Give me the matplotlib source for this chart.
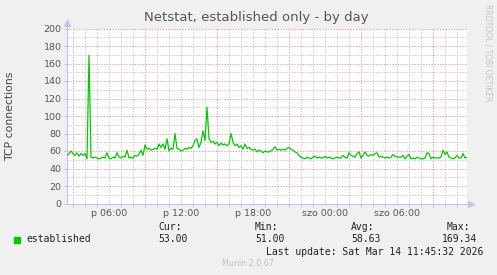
import numpy as np
import matplotlib
matplotlib.use("Agg")
import matplotlib.pyplot as plt

# established connections, 10 minute steps, Fri 02:30 -> Sat 11:50
established = [
    55, 57, 60, 57, 55, 58, 54, 57, 55, 57,
    51, 169.34, 53, 52, 53, 52, 51, 52, 53, 52,
    58, 52, 51, 53, 52, 58, 53, 52, 54, 53,
    61, 52, 53, 52, 55, 54, 56, 61, 55, 67,
    62, 63, 61, 62, 63, 62, 68, 64, 68, 62,
    74, 60, 63, 62, 80, 63, 62, 60, 61, 63,
    62, 64, 63, 66, 72, 74, 64, 70, 83, 72,
    110, 74, 70, 71, 68, 70, 66, 69, 67, 68,
    66, 68, 80, 70, 66, 68, 64, 66, 62, 68,
    63, 64, 62, 61, 62, 59, 61, 60, 58, 60,
    59, 59, 60, 62, 65, 61, 62, 61, 62, 61,
    63, 64, 62, 61, 59, 58, 55, 53, 52, 51,
    53, 52, 51, 53, 54, 52, 53, 52, 52, 54,
    52, 53, 52, 51, 52, 53, 52, 52, 55, 53,
    52, 58, 55, 54, 53, 57, 59, 52, 55, 59,
    55, 54, 56, 55, 57, 58, 53, 54, 53, 52,
    53, 52, 53, 56, 54, 53, 53, 53, 55, 51,
    54, 56, 51, 52, 51, 53, 52, 51, 51, 52,
    58, 57, 51, 53, 52, 52, 52, 53, 61, 56,
    59, 53, 52, 51, 52, 55, 52, 52, 57, 52,
    53,
]
start_hour = 2.5          # hours since Fri 00:00
step_hour = 1.0 / 6.0
hours = start_hour + np.arange(len(established)) * step_hour

tick_hours = [6, 12, 18, 24, 30]
tick_labels = ["p 06:00", "p 12:00", "p 18:00", "szo 00:00", "szo 06:00"]
major_grid_hours = [3, 9, 15, 21, 27, 33]

legend_name = "established"
stat_heads = ["Cur:", "Min:", "Avg:", "Max:"]
stat_values = ["53.00", "51.00", "58.63", "169.34"]
last_update = "Last update: Sat Mar 14 11:45:32 2026"

W, H = 497, 275
BG = "#F0F0F0"
TXT = "#555555"
AXC = "#C4C4EE"

fig = plt.figure(figsize=(W / 100, H / 100), dpi=100, facecolor=BG)
ax = fig.add_axes([67 / W, 1 - 203.5 / H, 400 / W, 175 / H])
ax.set_facecolor("white")

x0, x1 = start_hour, hours[-1]
ax.set_xlim(x0, x1)
ax.set_ylim(0, 200)

# grid: minor grey, major red, both dotted
dots = (0, (1.4, 1.4))
for h in np.arange(3, 36):
    if h in major_grid_hours:
        continue
    ax.axvline(h, color="#CACACA", lw=0.72, ls=dots, zorder=1)
for h in major_grid_hours:
    ax.axvline(h, color="#F0A0A0", lw=0.72, ls=dots, zorder=1)
for v in range(10, 200, 20):
    ax.axhline(v, color="#CACACA", lw=0.72, ls=dots, zorder=1)
for v in range(20, 201, 20):
    ax.axhline(v, color="#F0A0A0", lw=0.72, ls=dots, zorder=1)

ax.plot(hours, established, color="#00CC00", lw=0.9, zorder=3)

for s in ["top", "right"]:
    ax.spines[s].set_visible(False)
for s in ["left", "bottom"]:
    ax.spines[s].set_color(AXC)
    ax.spines[s].set_linewidth(0.8)

ax.set_yticks(range(0, 201, 20))
ax.set_xticks(tick_hours)
ax.set_xticklabels(tick_labels)
ax.set_xticks(np.arange(3, 36), minor=True)
ax.tick_params(axis="both", which="major", labelsize=6.8, colors=TXT,
               length=2, width=0.6, pad=2)
ax.tick_params(axis="x", which="major", length=0, pad=4)
ax.tick_params(axis="x", which="minor", length=2, width=0.6, colors="#BBBBBB")
ax.tick_params(axis="y", which="major", color="#BBBBBB")

# axis arrows
ax.plot([1.0, 1.01], [0, 0], transform=ax.transAxes, color=AXC, lw=0.8, clip_on=False)
ax.plot([1.01], [0], transform=ax.transAxes, marker=">", ms=4, color=AXC,
        mec=AXC, clip_on=False)
ax.plot([0, 0], [1.0, 1.03], transform=ax.transAxes, color=AXC, lw=0.8, clip_on=False)
ax.plot([0], [1.03], transform=ax.transAxes, marker="^", ms=4, color=AXC,
        mec=AXC, clip_on=False)

def ftext(x, y, s, **kw):
    fig.text(x / W, 1 - y / H, s, **kw)

ftext(256, 18, "Netstat, established only - by day", ha="center", va="center",
      fontsize=9.5, color="#555555")
ftext(10, 116, "TCP connections", ha="center", va="center", rotation=90,
      fontsize=7.8, color="#444444")
ftext(488, 53, "RRDTOOL / TOBI OETIKER", ha="center", va="center", rotation=270,
      fontsize=5.5, color="#C4C4C4")

fig.patches.append(plt.Rectangle((14 / W, 1 - 242.5 / H), 6 / W, 6 / H,
                                 transform=fig.transFigure, color="#00CC00"))
mono = dict(family="DejaVu Sans Mono", fontsize=7, color="#222222", va="center")
ftext(26.5, 239.5, legend_name, ha="left", **mono)
head_x = [158, 255, 351, 447]
val_x = [158, 255, 351, 442]
for hx, vx, hd, vl in zip(head_x, val_x, stat_heads, stat_values):
    ftext(hx, 227.5, hd, ha="left", **mono)
    ftext(vx, 239.5, vl, ha="left", **mono)
ftext(483, 251.7, last_update, ha="right", **mono)
ftext(248, 264, "Munin 2.0.67", ha="center", va="center", fontsize=5.8,
      color="#BFBFBF")

fig.savefig("out.png", dpi=100, facecolor=BG)
